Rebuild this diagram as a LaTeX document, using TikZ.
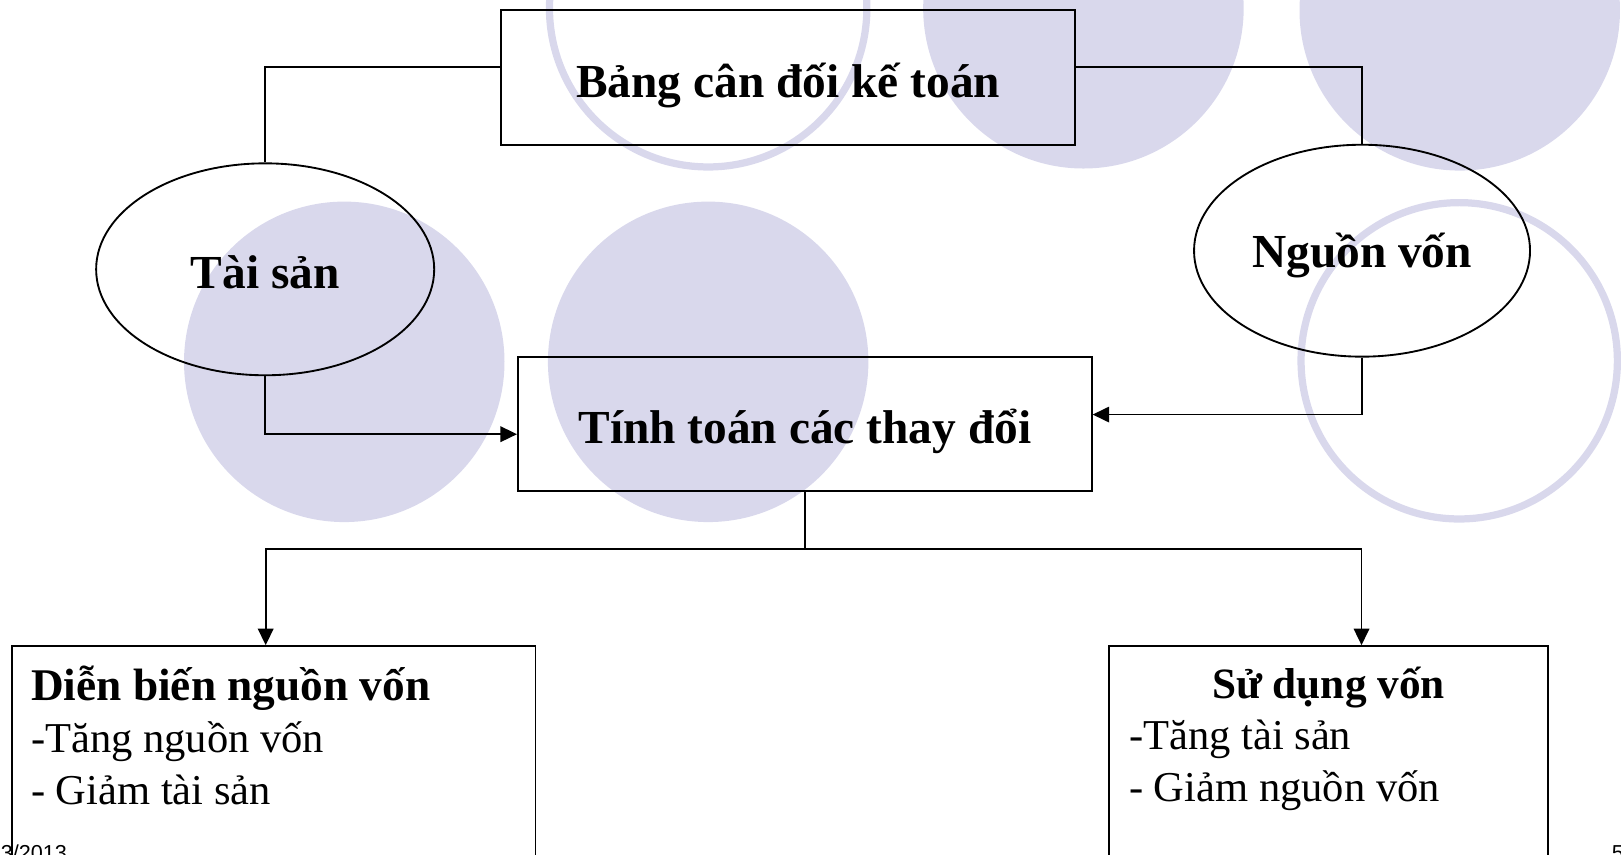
\documentclass[tikz,border=0pt]{standalone}
\usepackage{fontspec}
\setmainfont{Liberation Serif}
\newfontfamily\footfont{Liberation Sans}
\usetikzlibrary{arrows.meta,shapes.geometric}
\definecolor{lavender}{RGB}{217,216,236}
\begin{document}
\begin{tikzpicture}[x=1bp,y=-1bp,
  frame/.style={draw,line width=1.8bp,rectangle,inner sep=0pt},
  oval/.style={draw,line width=1.8bp,ellipse,inner sep=0pt,minimum width=327bp,minimum height=205bp},
  link/.style={line width=1.8bp},
  arrowlink/.style={link,-{Triangle[length=16bp,width=15bp]}},
  title/.style={font=\fontsize{46}{55}\selectfont\bfseries,inner sep=0pt,anchor=base},
  subtitle/.style={font=\fontsize{44}{50}\selectfont\bfseries,inner sep=0pt},
  item/.style={font=\fontsize{41.3}{50}\selectfont,inner sep=0pt,anchor=base west},
  footer/.style={font=\footfont\fontsize{21}{25}\selectfont,inner sep=0pt},
  disc/.style={fill=lavender},
  ring/.style={draw=lavender,line width=7bp}
]
\clip (0,0) rectangle (1568,827);

% decorative background circles
\draw[ring] (685,8) circle[radius=153.5];
\fill[disc] (1048,8) circle[radius=155];
\fill[disc] (1412,10) circle[radius=155];
\fill[disc] (333,350) circle[radius=155];
\fill[disc] (685,350) circle[radius=155];
\draw[ring] (1411.5,349) circle[radius=153];

% balance sheet
\node[frame,minimum width=555bp,minimum height=130bp] (bang) at (762.5,75) {};
\node[title] (bangtext) at (762.5,94) {Bảng cân đối kế toán};

% assets and capital
\node[oval] (tai) at (256.5,260.5) {};
\node[title] (taitext) at (256.5,279) {Tài sản};
\node[oval,minimum width=325bp] (nguon) at (1317.5,242.5) {};
\node[title] (nguontext) at (1317.5,259) {Nguồn vốn};

% computing the changes
\node[frame,minimum width=555bp,minimum height=130bp] (tinh) at (778.5,410) {};
\node[title] (tinhtext) at (778.5,429) {Tính toán các thay đổi};

% sources of funds
\node[frame,minimum width=506bp,minimum height=300bp] (dien) at (265,775) {};
\node[subtitle,anchor=base west] (dienhead) at (30,678) {Diễn biến nguồn vốn};
\node[item] (dienone) at (30,728) {-Tăng nguồn vốn};
\node[item] (dientwo) at (30,778) {- Giảm tài sản};

% uses of funds
\node[frame,minimum width=424bp,minimum height=300bp] (su) at (1285,775) {};
\node[subtitle,font=\fontsize{42}{50}\selectfont\bfseries,anchor=base] (suhead) at (1285,676) {Sử dụng vốn};
\node[item] (suone) at (1092,725) {-Tăng tài sản};
\node[item] (sutwo) at (1092,775) {- Giảm nguồn vốn};

% footer
\node[footer,anchor=base east] (date) at (65,832) {3/2013};
\node[footer,anchor=base west] (page) at (1559,832) {5};

% connectors
\draw[link] ([yshift=10bp]bang.west) -| (tai.north);
\draw[link] ([yshift=10bp]bang.east) -| (nguon.north);
\draw[arrowlink] (tai.south) |- ([yshift=-10bp]tinh.west);
\draw[arrowlink] (nguon.south) |- ([yshift=9bp]tinh.east);
\coordinate (split) at (778.5,531);
\draw[link] (tinh.south) -- (split);
\draw[arrowlink] (split) -| ([xshift=-8bp]dien.north);
\draw[arrowlink] (split) -| ([xshift=32bp]su.north);
\end{tikzpicture}
\end{document}
